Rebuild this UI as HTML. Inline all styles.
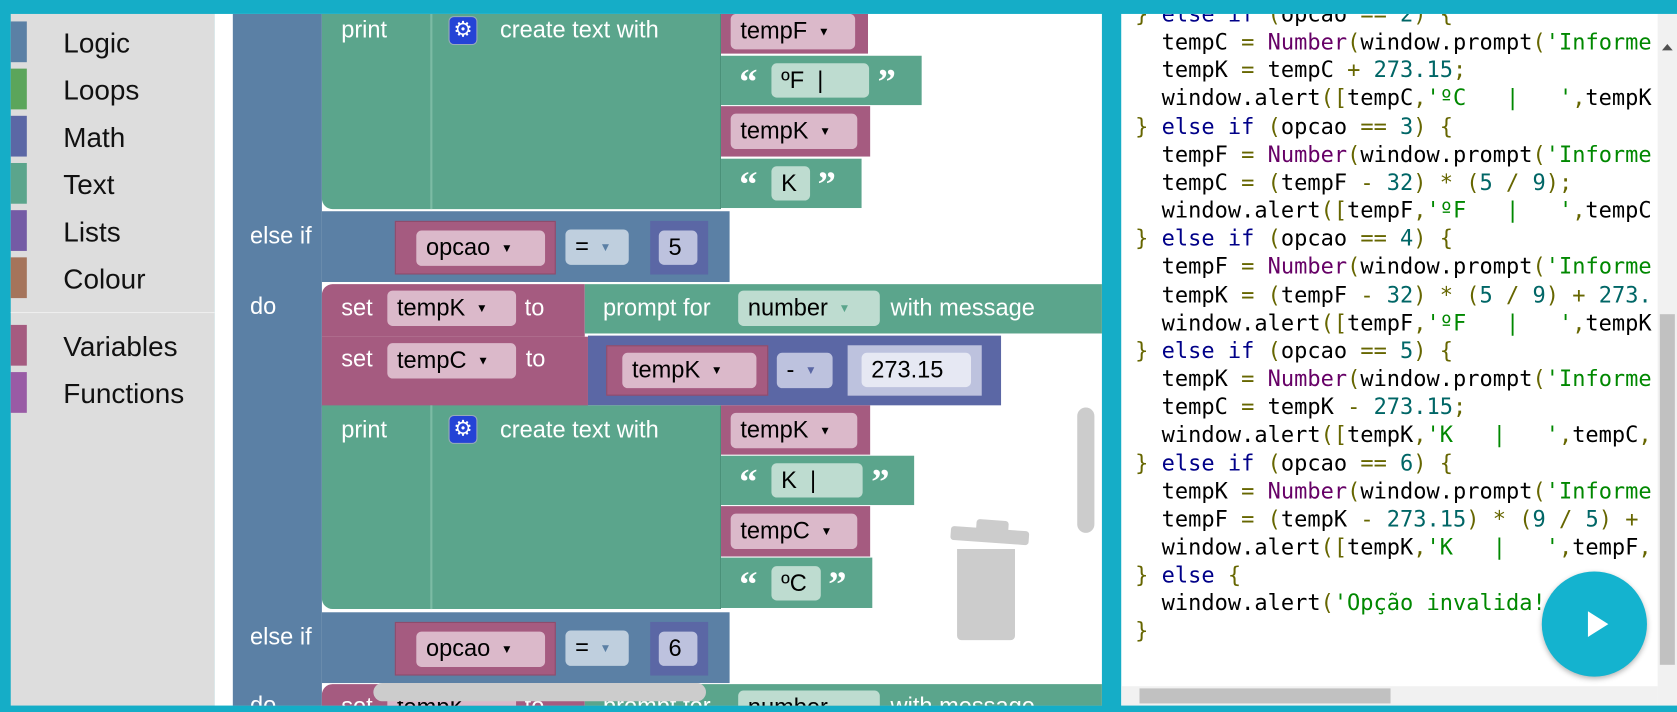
<!DOCTYPE html>
<html><head><meta charset="utf-8"><style>
html,body{margin:0;padding:0;width:1677px;height:712px;overflow:hidden;background:#15adc7}
#s{position:absolute;left:0;top:0;width:1563px;height:664px;transform:scale(1.07294,1.07229);transform-origin:0 0;background:#15adc7;font-family:"Liberation Sans",sans-serif}
.a{position:absolute;box-sizing:border-box}
.t{position:absolute;color:#fff;font-size:22px;line-height:26px;white-space:nowrap}
.p{position:absolute;box-sizing:border-box;border-radius:5px;color:#000;font-size:22px;line-height:32px;padding-left:9px;white-space:nowrap}
.tri{font-size:11px;vertical-align:middle;margin-left:10px}
.L{background:#5b80a5}.G{background:#5ba58c}.V{background:#a55b80}.M{background:#5b67a5}
.vp{background:#dbb9ca}.gp{background:#bedcd0}.lp{background:#bfcfde}.mp{background:#bdc2de}
.tb{position:absolute;left:59px;font-size:26px;color:#111}
.sw{position:absolute;left:10px;width:15px;height:38px}
#code{position:absolute;left:1060px;top:0;width:485px;height:640px;overflow:hidden;font-family:"DejaVu Sans Mono","Liberation Mono",monospace;font-size:20.5px;line-height:26.15px;white-space:pre;color:#000}
.k{color:#000088}.n{color:#066}.s{color:#080}.f{color:#606}.o{color:#660}
.q{position:absolute;color:#fff;font-size:34px;font-family:"Liberation Serif",serif;line-height:30px;font-weight:bold}
</style></head><body><div id="s">
<div class="a" style="left:10px;top:13px;width:190px;height:645px;background:#ddd"></div>
<div class="sw" style="top:20px;background:#5b80a5"></div><div class="tb" style="top:25px">Logic</div>
<div class="sw" style="top:64px;background:#5ba55b"></div><div class="tb" style="top:69px">Loops</div>
<div class="sw" style="top:108px;background:#5b67a5"></div><div class="tb" style="top:113px">Math</div>
<div class="sw" style="top:152px;background:#5ba58c"></div><div class="tb" style="top:157px">Text</div>
<div class="sw" style="top:196px;background:#745ba5"></div><div class="tb" style="top:201px">Lists</div>
<div class="sw" style="top:240px;background:#a5745b"></div><div class="tb" style="top:245px">Colour</div>
<div class="a" style="left:10px;top:291px;width:190px;height:1px;background:#eee"></div>
<div class="sw" style="top:303px;background:#a55b80"></div><div class="tb" style="top:308px">Variables</div>
<div class="sw" style="top:347px;background:#995ba5"></div><div class="tb" style="top:352px">Functions</div>
<div class="a" style="left:200px;top:13px;width:827px;height:645px;background:#fff;overflow:hidden">
<div style="position:absolute;left:-200px;top:-13px;width:1027px;height:671px">
<div class="a L" style="left:217px;top:0;width:83px;height:680px"></div>
<div class="a G" style="left:300px;top:0;width:372px;height:195px;border-bottom-left-radius:10px;border-right:1px solid #4a9078"></div>
<div class="a" style="left:401px;top:0;width:2px;height:195px;background:#7cbba4"></div>
<div class="t" style="left:318px;top:15px">print</div>
<div class="a" style="left:418px;top:15px;width:27px;height:27px;background:#2443d6;border-radius:5px;border:1px solid #9ab;color:#fff;font-size:20px;text-align:center;line-height:24px">⚙</div>
<div class="t" style="left:466px;top:15px">create text with</div>
<div class="a V" style="left:672px;top:0;width:137px;height:50px"></div><div class="p vp" style="left:681px;top:13px;width:116px">tempF<span class="tri">▼</span></div>
<div class="a G" style="left:672px;top:52px;width:187px;height:46px"></div><div class="q" style="left:689px;top:62px">“</div><div class="p gp" style="left:719px;top:59px;width:91px">ºF &nbsp;|</div><div class="q" style="left:818px;top:62px">”</div>
<div class="a V" style="left:672px;top:99px;width:139px;height:47px"></div><div class="p vp" style="left:681px;top:106px;width:118px">tempK<span class="tri">▼</span></div>
<div class="a G" style="left:672px;top:148px;width:131px;height:46px"></div><div class="q" style="left:689px;top:158px">“</div><div class="p gp" style="left:719px;top:155px;width:36px">K</div><div class="q" style="left:762px;top:158px">”</div>
<div class="a L" style="left:300px;top:197px;width:380px;height:66px"></div>
<div class="t" style="left:233px;top:207px">else if</div>
<div class="a V" style="left:368px;top:206px;width:150px;height:50px;border:1px solid #8d4c6c"></div><div class="p vp" style="left:388px;top:215px;width:120px">opcao<span class="tri">▼</span></div>
<div class="p lp" style="left:527px;top:214px;width:59px">=<span class="tri" style="color:#5b80a5">▼</span></div>
<div class="a M" style="left:606px;top:206px;width:54px;height:50px"></div><div class="p mp" style="left:614px;top:215px;width:36px">5</div>
<div class="t" style="left:233px;top:273px">do</div>
<div class="a V" style="left:300px;top:265px;width:245px;height:49px;border-top-left-radius:10px"></div>
<div class="t" style="left:318px;top:274px">set</div><div class="p vp" style="left:361px;top:271px;width:120px">tempK<span class="tri">▼</span></div><div class="t" style="left:489px;top:274px">to</div>
<div class="a G" style="left:545px;top:265px;width:490px;height:46px"></div>
<div class="t" style="left:562px;top:274px">prompt for</div><div class="p gp" style="left:688px;top:271px;width:132px">number<span class="tri" style="color:#5ba58c">▼</span></div><div class="t" style="left:830px;top:274px">with message</div>
<div class="a V" style="left:300px;top:314px;width:248px;height:66px"></div>
<div class="t" style="left:318px;top:322px">set</div><div class="p vp" style="left:361px;top:320px;width:120px">tempC<span class="tri">▼</span></div><div class="t" style="left:490px;top:322px">to</div>
<div class="a M" style="left:548px;top:313px;width:385px;height:65px"></div>
<div class="a V" style="left:565px;top:322px;width:151px;height:47px;border:1px solid #8d4c6c"></div><div class="p vp" style="left:580px;top:329px;width:125px">tempK<span class="tri">▼</span></div>
<div class="p mp" style="left:724px;top:329px;width:52px">-<span class="tri" style="color:#5b67a5">▼</span></div>
<div class="a" style="left:790px;top:322px;width:125px;height:47px;background:#bdc2de"></div><div class="p" style="left:803px;top:329px;width:102px;background:#e6e8f3">273.15</div>
<div class="a G" style="left:300px;top:378px;width:372px;height:190px;border-bottom-left-radius:10px;border-right:1px solid #4a9078"></div>
<div class="a" style="left:401px;top:378px;width:2px;height:190px;background:#7cbba4"></div>
<div class="t" style="left:318px;top:388px">print</div>
<div class="a" style="left:418px;top:387px;width:27px;height:27px;background:#2443d6;border-radius:5px;border:1px solid #9ab;color:#fff;font-size:20px;text-align:center;line-height:24px">⚙</div>
<div class="t" style="left:466px;top:388px">create text with</div>
<div class="a V" style="left:672px;top:378px;width:139px;height:46px"></div><div class="p vp" style="left:681px;top:385px;width:118px">tempK<span class="tri">▼</span></div>
<div class="a G" style="left:672px;top:425px;width:180px;height:46px"></div><div class="q" style="left:689px;top:435px">“</div><div class="p gp" style="left:719px;top:432px;width:85px">K &nbsp;|</div><div class="q" style="left:812px;top:435px">”</div>
<div class="a V" style="left:672px;top:472px;width:139px;height:47px"></div><div class="p vp" style="left:681px;top:479px;width:118px">tempC<span class="tri">▼</span></div>
<div class="a G" style="left:672px;top:520px;width:141px;height:47px"></div><div class="q" style="left:689px;top:531px">“</div><div class="p gp" style="left:719px;top:528px;width:46px">ºC</div><div class="q" style="left:772px;top:531px">”</div>
<div class="a L" style="left:300px;top:571px;width:380px;height:66px"></div>
<div class="t" style="left:233px;top:581px">else if</div>
<div class="a V" style="left:368px;top:580px;width:150px;height:50px;border:1px solid #8d4c6c"></div><div class="p vp" style="left:388px;top:589px;width:120px">opcao<span class="tri">▼</span></div>
<div class="p lp" style="left:527px;top:588px;width:59px">=<span class="tri" style="color:#5b80a5">▼</span></div>
<div class="a M" style="left:606px;top:580px;width:54px;height:50px"></div><div class="p mp" style="left:614px;top:589px;width:36px">6</div>
<div class="t" style="left:233px;top:645px">do</div>
<div class="a V" style="left:300px;top:638px;width:245px;height:40px;border-top-left-radius:10px"></div>
<div class="t" style="left:318px;top:646px">set</div><div class="p vp" style="left:361px;top:644px;width:120px">tempK</div><div class="t" style="left:489px;top:646px">to</div>
<div class="a G" style="left:545px;top:638px;width:490px;height:40px"></div>
<div class="t" style="left:562px;top:646px">prompt for</div><div class="p gp" style="left:688px;top:644px;width:132px">number</div><div class="t" style="left:830px;top:646px">with message</div>
<div class="a" style="left:348px;top:637px;width:310px;height:17px;border-radius:9px;background:#ccc"></div>
<div class="a" style="left:1004px;top:380px;width:16px;height:117px;border-radius:8px;background:#ccc"></div>
<div class="a" style="left:886px;top:493px;width:73px;height:13px;background:#ccc;border-radius:3px;transform:rotate(4deg)"></div>
<div class="a" style="left:910px;top:485px;width:30px;height:10px;background:#ccc;border-radius:3px 3px 0 0;transform:rotate(4deg)"></div>
<div class="a" style="left:892px;top:512px;width:54px;height:85px;background:#ccc;border-radius:0 0 4px 4px"></div>
</div></div>
<div class="a" style="left:1045px;top:13px;width:518px;height:645px;background:#fff;overflow:hidden">
<div id="code" style="left:13px;top:-13px;width:482px"><span class="o">}</span> <span class="k">else if</span> <span class="o">(</span>opcao <span class="o">==</span> <span class="n">2</span><span class="o">)</span> <span class="o">{</span>
  tempC <span class="o">=</span> <span class="f">Number</span><span class="o">(</span>window.prompt<span class="o">(</span><span class="s">'Informe o valor'</span>
  tempK <span class="o">=</span> tempC <span class="o">+</span> <span class="n">273.15</span><span class="o">;</span>
  window.alert<span class="o">([</span>tempC<span class="o">,</span><span class="s">'ºC   |   '</span><span class="o">,</span>tempK
<span class="o">}</span> <span class="k">else if</span> <span class="o">(</span>opcao <span class="o">==</span> <span class="n">3</span><span class="o">)</span> <span class="o">{</span>
  tempF <span class="o">=</span> <span class="f">Number</span><span class="o">(</span>window.prompt<span class="o">(</span><span class="s">'Informe o valor'</span>
  tempC <span class="o">=</span> <span class="o">(</span>tempF <span class="o">-</span> <span class="n">32</span><span class="o">)</span> <span class="o">*</span> <span class="o">(</span><span class="n">5</span> <span class="o">/</span> <span class="n">9</span><span class="o">);</span>
  window.alert<span class="o">([</span>tempF<span class="o">,</span><span class="s">'ºF   |   '</span><span class="o">,</span>tempC
<span class="o">}</span> <span class="k">else if</span> <span class="o">(</span>opcao <span class="o">==</span> <span class="n">4</span><span class="o">)</span> <span class="o">{</span>
  tempF <span class="o">=</span> <span class="f">Number</span><span class="o">(</span>window.prompt<span class="o">(</span><span class="s">'Informe o valor'</span>
  tempK <span class="o">=</span> <span class="o">(</span>tempF <span class="o">-</span> <span class="n">32</span><span class="o">)</span> <span class="o">*</span> <span class="o">(</span><span class="n">5</span> <span class="o">/</span> <span class="n">9</span><span class="o">)</span> <span class="o">+</span> <span class="n">273.15</span><span class="o">;</span>
  window.alert<span class="o">([</span>tempF<span class="o">,</span><span class="s">'ºF   |   '</span><span class="o">,</span>tempK
<span class="o">}</span> <span class="k">else if</span> <span class="o">(</span>opcao <span class="o">==</span> <span class="n">5</span><span class="o">)</span> <span class="o">{</span>
  tempK <span class="o">=</span> <span class="f">Number</span><span class="o">(</span>window.prompt<span class="o">(</span><span class="s">'Informe o valor'</span>
  tempC <span class="o">=</span> tempK <span class="o">-</span> <span class="n">273.15</span><span class="o">;</span>
  window.alert<span class="o">([</span>tempK<span class="o">,</span><span class="s">'K   |   '</span><span class="o">,</span>tempC<span class="o">,</span>
<span class="o">}</span> <span class="k">else if</span> <span class="o">(</span>opcao <span class="o">==</span> <span class="n">6</span><span class="o">)</span> <span class="o">{</span>
  tempK <span class="o">=</span> <span class="f">Number</span><span class="o">(</span>window.prompt<span class="o">(</span><span class="s">'Informe o valor'</span>
  tempF <span class="o">=</span> <span class="o">(</span>tempK <span class="o">-</span> <span class="n">273.15</span><span class="o">)</span> <span class="o">*</span> <span class="o">(</span><span class="n">9</span> <span class="o">/</span> <span class="n">5</span><span class="o">)</span> <span class="o">+</span> <span class="n">32</span><span class="o">;</span>
  window.alert<span class="o">([</span>tempK<span class="o">,</span><span class="s">'K   |   '</span><span class="o">,</span>tempF<span class="o">,</span>
<span class="o">}</span> <span class="k">else</span> <span class="o">{</span>
  window.alert<span class="o">(</span><span class="s">'Opção invalida!'</span><span class="o">);</span>
<span class="o">}</span></div>
<div class="a" style="left:500px;top:0;width:18px;height:645px;background:#f1f1f1"></div>
<div class="a" style="left:502px;top:280px;width:14px;height:327px;background:#c1c1c1"></div>
<div class="a" style="left:504px;top:28px;width:0;height:0;border-left:5px solid transparent;border-right:5px solid transparent;border-bottom:6px solid #505050"></div>
<div class="a" style="left:0;top:627px;width:500px;height:18px;background:#f1f1f1"></div>
<div class="a" style="left:17px;top:629px;width:234px;height:14px;background:#c1c1c1"></div>
</div>
<div class="a" style="left:1437px;top:533px;width:98px;height:98px;border-radius:50%;background:#14b3cf;box-shadow:0 2px 5px rgba(0,0,0,.3)"></div>
<div class="a" style="left:1480px;top:570px;width:0;height:0;border-top:12px solid transparent;border-bottom:12px solid transparent;border-left:19px solid #fff"></div>
</div></body></html>
